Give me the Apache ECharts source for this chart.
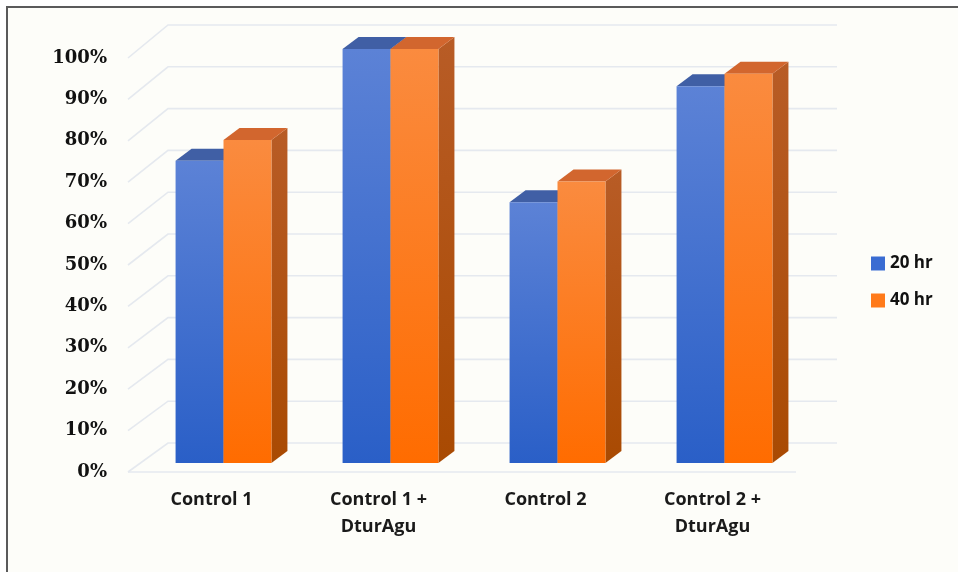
<!DOCTYPE html>
<html><head><meta charset="utf-8">
<script src="https://cdn.jsdelivr.net/npm/echarts@6/dist/echarts.min.js"></script>
<style>html,body{margin:0;padding:0;background:#fff}#c{width:958px;height:572px}</style>
</head><body><div id="c"></div>
<script>
const categories = ['Control 1', 'Control 1 +\nDturAgu', 'Control 2', 'Control 2 +\nDturAgu'];
const seriesNames = ['20 hr', '40 hr'];
const values20 = [73, 100, 63, 91];
const values40 = [78, 100, 68, 94];
const yTicks = [0, 10, 20, 30, 40, 50, 60, 70, 80, 90, 100];

const chart = echarts.init(document.getElementById('c'), null, {renderer: 'canvas'});
const G = echarts.graphic;

function renderWall(params, api) {
  const v = api.value(1);
  const cs = params.coordSys;
  const y = api.coord([0, v])[1];
  const dy = -29 - 0.04 * v;
  const x0 = cs.x, x1 = cs.x + cs.width;
  const children = [{
    type: 'polyline',
    shape: {points: [[x0, y], [x0 + 40, y + dy], [x1 + 41, y + dy]]},
    style: {stroke: '#e5e9ef', lineWidth: 1.6, fill: null}
  }];
  if (v === 0) {
    children.push({type: 'line', shape: {x1: x0, y1: y, x2: x1, y2: y},
      style: {stroke: '#e5e9ef', lineWidth: 1.6}});
  }
  return {type: 'group', children: children, silent: true};
}

function makeBar(side, c) {
  return function (params, api) {
    const ci = api.value(0), v = api.value(1);
    const base = api.coord([ci, 0]);
    const topP = api.coord([ci, v]);
    const band = api.size([1, 0])[0];
    const w = band * 0.287;
    const fx = 12, fy = -9, dx = 16, dy = -12;
    const xl = base[0] + fx + (side === 0 ? -w : 0);
    const xr = xl + w;
    const yb = base[1] + fy, yt = topP[1] + fy;
    return {type: 'group', children: [
      {type: 'polygon', shape: {points: [[xr, yt], [xr + dx, yt + dy], [xr + dx, yb + dy], [xr, yb]]},
        style: {fill: new G.LinearGradient(0, 0, 0, 1, [{offset: 0, color: c.side[0]}, {offset: 1, color: c.side[1]}])}},
      {type: 'polygon', shape: {points: [[xl, yt], [xr, yt], [xr + dx, yt + dy], [xl + dx, yt + dy]]},
        style: {fill: c.top}},
      {type: 'rect', shape: {x: xl, y: yt, width: w, height: yb - yt},
        style: {fill: new G.LinearGradient(0, 0, 0, 1, [{offset: 0, color: c.front[0]}, {offset: 1, color: c.front[1]}])}}
    ]};
  };
}

const blue = {front: ['#5c82d6', '#2a5fc7'], top: '#405fa5', side: ['#34589f', '#24479a']};
const orange = {front: ['#fa8b3f', '#ff6c00'], top: '#d2662e', side: ['#b85c26', '#a94a02']};

chart.setOption({
  animation: false,
  backgroundColor: '#ffffff',
  graphic: [{
    type: 'rect', z: -10, silent: true,
    shape: {x: 7, y: 7, width: 1000, height: 1000},
    style: {fill: '#fdfdf9', stroke: '#5a5a5a', lineWidth: 2}
  }],
  legend: {
    orient: 'vertical', left: 866, top: 250,
    itemWidth: 14, itemHeight: 14, itemGap: 20, icon: 'rect',
    data: seriesNames,
    textStyle: {fontFamily: 'Open Sans', fontWeight: 'bold', fontSize: 17, color: '#111', lineHeight: 17}
  },
  grid: {left: 128, right: 162, top: 58, bottom: 100, containLabel: false},
  xAxis: {
    type: 'category', data: categories,
    axisLine: {show: false}, axisTick: {show: false}, splitLine: {show: false},
    axisLabel: {interval: 0, margin: 14, fontFamily: 'Open Sans', fontWeight: 'bold', fontSize: 18,
      color: '#1a1a1a', lineHeight: 27, align: 'center'}
  },
  yAxis: {
    type: 'value', min: 0, max: 100, interval: 10,
    axisLine: {show: false}, axisTick: {show: false}, splitLine: {show: false},
    axisLabel: {formatter: '{value}%', margin: 21, fontFamily: 'DejaVu Serif', fontWeight: 'bold',
      fontSize: 18, color: '#111'}
  },
  series: [
    {type: 'custom', name: 'wall', renderItem: renderWall, silent: true, z: 1,
      encode: {x: 0, y: 1}, data: yTicks.map(v => [0, v])},
    {type: 'custom', name: seriesNames[0], renderItem: makeBar(0, blue), z: 3,
      itemStyle: {color: '#3a6cd2'}, encode: {x: 0, y: 1},
      data: values20.map((v, i) => [i, v])},
    {type: 'custom', name: seriesNames[1], renderItem: makeBar(1, orange), z: 4,
      itemStyle: {color: '#ff7a1a'}, encode: {x: 0, y: 1},
      data: values40.map((v, i) => [i, v])}
  ]
});
</script></body></html>
